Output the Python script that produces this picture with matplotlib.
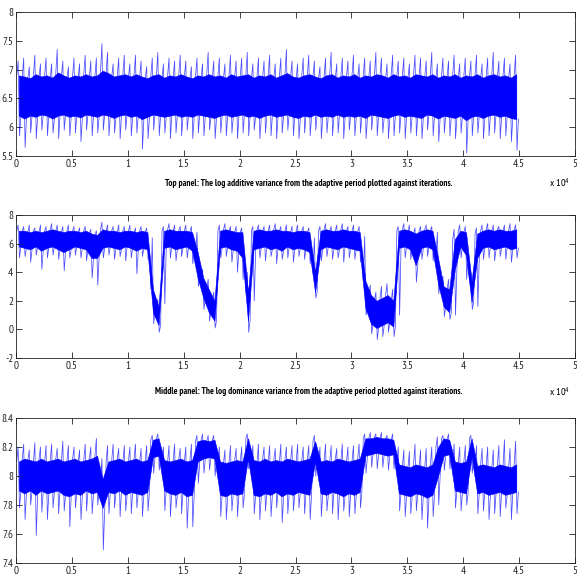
import numpy as np
import matplotlib
matplotlib.use("Agg")
import matplotlib.pyplot as plt
from matplotlib.ticker import FuncFormatter
from matplotlib import rc

rc('mathtext', fontset='custom', rm='PT Sans Narrow', default='regular')
plt.rcParams['font.family'] = ['PT Sans Narrow', 'DejaVu Sans']

# traces summarised per 500 iterations (90 bins, 0 .. 45000)
bin_width = 500
n_bins = 90

# top panel: log additive variance
top_core_lo = [6.20, 6.15, 6.20, 6.18, 6.22, 6.20, 6.15, 6.20, 6.22, 6.18,
               6.20, 6.17, 6.22, 6.20, 6.18, 6.22, 6.20, 6.16, 6.20, 6.22,
               6.18, 6.20, 6.14, 6.18, 6.22, 6.20, 6.18, 6.20, 6.22, 6.18,
               6.20, 6.18, 6.22, 6.20, 6.18, 6.16, 6.20, 6.22, 6.18, 6.20,
               6.22, 6.18, 6.20, 6.16, 6.20, 6.22, 6.18, 6.20, 6.22, 6.18,
               6.16, 6.20, 6.18, 6.22, 6.18, 6.20, 6.18, 6.22, 6.18, 6.20,
               6.18, 6.20, 6.16, 6.22, 6.20, 6.18, 6.16, 6.20, 6.22, 6.18,
               6.20, 6.18, 6.16, 6.22, 6.20, 6.15, 6.20, 6.18, 6.16, 6.20,
               6.12, 6.18, 6.20, 6.16, 6.20, 6.22, 6.18, 6.20, 6.16, 6.14]
top_core_hi = [6.90, 6.88, 6.85, 6.92, 6.88, 6.90, 6.86, 6.95, 6.90, 6.86,
               6.90, 6.88, 6.92, 6.88, 6.90, 6.98, 6.94, 6.88, 6.90, 6.92,
               6.88, 6.92, 6.88, 6.85, 6.90, 6.92, 6.86, 6.90, 6.88, 6.92,
               6.88, 6.85, 6.90, 6.88, 6.92, 6.88, 6.90, 6.86, 6.92, 6.88,
               6.90, 6.92, 6.86, 6.90, 6.88, 6.92, 6.86, 6.90, 6.94, 6.88,
               6.86, 6.90, 6.92, 6.88, 6.85, 6.90, 6.92, 6.86, 6.90, 6.88,
               6.92, 6.86, 6.90, 6.88, 6.92, 6.90, 6.86, 6.92, 6.88, 6.90,
               6.86, 6.92, 6.90, 6.88, 6.92, 6.86, 6.90, 6.88, 6.92, 6.86,
               6.90, 6.88, 6.92, 6.86, 6.90, 6.92, 6.88, 6.90, 6.86, 6.92]
top_lo = [5.85, 5.65, 5.90, 5.80, 5.95, 5.85, 5.90, 5.80, 5.95, 5.85,
          5.90, 5.75, 5.95, 5.85, 5.90, 5.95, 5.85, 5.90, 5.80, 5.95,
          5.85, 5.90, 5.62, 5.80, 5.95, 5.85, 5.90, 5.80, 5.90, 5.85,
          5.95, 5.80, 5.90, 5.85, 5.95, 5.80, 5.90, 5.85, 5.90, 5.80,
          5.90, 5.85, 5.95, 5.80, 5.90, 5.85, 5.80, 5.90, 5.95, 5.85,
          5.80, 5.90, 5.85, 5.95, 5.80, 5.90, 5.85, 5.90, 5.80, 5.95,
          5.85, 5.90, 5.80, 5.95, 5.85, 5.90, 5.80, 5.85, 5.90, 5.80,
          5.90, 5.85, 5.80, 5.95, 5.85, 5.75, 5.90, 5.85, 5.80, 5.90,
          5.55, 5.85, 5.90, 5.80, 5.85, 5.90, 5.80, 5.85, 5.75, 5.60]
top_hi = [7.15, 7.20, 7.05, 7.25, 7.10, 7.20, 7.10, 7.35, 7.15, 7.05,
          7.20, 7.10, 7.25, 7.15, 7.20, 7.45, 7.30, 7.10, 7.20, 7.25,
          7.10, 7.25, 7.15, 7.05, 7.20, 7.30, 7.10, 7.20, 7.15, 7.25,
          7.15, 7.05, 7.20, 7.10, 7.30, 7.15, 7.20, 7.10, 7.25, 7.15,
          7.20, 7.30, 7.10, 7.20, 7.15, 7.25, 7.10, 7.20, 7.35, 7.15,
          7.10, 7.20, 7.25, 7.15, 7.05, 7.20, 7.30, 7.10, 7.20, 7.15,
          7.25, 7.10, 7.20, 7.15, 7.30, 7.20, 7.10, 7.25, 7.15, 7.20,
          7.10, 7.25, 7.20, 7.15, 7.30, 7.10, 7.20, 7.15, 7.25, 7.10,
          7.20, 7.15, 7.25, 7.10, 7.20, 7.30, 7.15, 7.20, 7.10, 7.25]

# middle panel: log dominance variance
mid_core_lo = [5.8, 5.7, 5.6, 5.8, 5.5, 5.7, 5.8, 5.6, 5.4, 5.6,
               5.8, 5.7, 5.6, 5.0, 5.0, 5.7, 5.8, 5.7, 5.6, 5.8,
               5.7, 5.5, 5.7, 5.6, 1.2, 0.3, 5.7, 5.8, 5.6, 5.7,
               5.8, 5.5, 3.6, 2.2, 1.2, 0.6, 5.7, 5.8, 5.6, 5.5,
               5.0, 0.6, 5.6, 5.7, 5.8, 5.6, 5.7, 5.5, 5.8, 5.6,
               5.7, 5.6, 5.4, 2.6, 5.6, 5.8, 5.7, 5.6, 5.8, 5.7,
               5.6, 5.5, 1.5, 0.4, 0.1, 0.3, 0.5, 0.2, 5.7, 5.8,
               5.6, 4.5, 5.7, 5.8, 5.6, 3.2, 1.6, 1.2, 4.2, 5.8,
               5.2, 1.9, 5.0, 5.7, 5.8, 5.6, 5.7, 5.8, 5.6, 5.7]
mid_core_hi = [6.9, 6.9, 6.8, 6.9, 6.8, 6.9, 7.0, 6.9, 6.8, 6.9,
               6.9, 6.8, 6.9, 6.7, 6.6, 7.0, 6.9, 6.9, 6.8, 6.9,
               6.9, 6.8, 6.9, 6.8, 2.8, 1.6, 6.9, 7.0, 6.9, 6.9,
               6.9, 6.8, 5.4, 3.6, 2.8, 2.0, 6.9, 7.0, 6.9, 6.8,
               6.8, 2.6, 6.9, 7.0, 6.9, 6.9, 7.0, 6.9, 6.9, 6.8,
               6.9, 6.9, 6.8, 4.0, 6.9, 7.0, 6.9, 6.9, 7.0, 6.9,
               6.9, 6.8, 3.4, 2.4, 2.0, 2.2, 2.4, 2.0, 6.9, 7.0,
               6.9, 6.7, 6.9, 7.0, 6.9, 5.0, 3.0, 2.8, 6.3, 6.9,
               6.8, 3.4, 6.7, 6.9, 7.0, 6.9, 7.0, 6.9, 6.9, 7.0]
mid_lo = [5.0, 5.1, 4.7, 5.2, 4.2, 5.0, 5.2, 4.9, 4.1, 5.0,
          5.2, 5.0, 4.8, 3.6, 3.1, 5.0, 5.2, 4.9, 5.1, 4.8,
          5.0, 3.9, 5.1, 4.9, 0.4, -0.2, 1.8, 5.0, 4.8, 5.1,
          5.0, 4.6, 3.0, 1.4, 0.6, 0.1, 5.0, 5.1, 4.7, 4.0,
          3.5, -0.2, 2.0, 5.0, 4.8, 5.1, 4.6, 4.9, 5.0, 4.7,
          5.1, 4.9, 4.6, 2.2, 4.8, 5.1, 4.9, 5.0, 4.7, 5.0,
          4.9, 4.7, 1.0, -0.3, -0.7, -0.5, -0.2, -0.5, 1.0, 5.0,
          4.9, 3.3, 4.9, 5.1, 4.8, 2.5, 0.9, 0.7, 1.0, 5.0,
          3.5, 1.4, 1.6, 4.9, 5.0, 4.8, 5.1, 4.9, 4.7, 5.0]
mid_hi = [7.3, 7.2, 7.3, 7.1, 7.3, 7.2, 7.4, 7.3, 7.2, 7.3,
          7.2, 7.1, 7.2, 7.0, 6.9, 7.5, 7.3, 7.2, 7.3, 7.2,
          7.3, 7.1, 7.2, 7.1, 6.4, 2.1, 7.2, 7.4, 7.3, 7.2,
          7.3, 7.2, 6.8, 4.2, 3.5, 2.6, 7.3, 7.4, 7.2, 7.2,
          7.1, 4.0, 7.2, 7.3, 7.2, 7.3, 7.4, 7.2, 7.3, 7.2,
          7.3, 7.2, 7.1, 6.4, 7.2, 7.4, 7.2, 7.3, 7.4, 7.2,
          7.3, 7.2, 6.5, 3.1, 2.6, 3.0, 3.2, 2.8, 7.2, 7.4,
          7.3, 7.1, 7.2, 7.3, 7.2, 6.8, 3.7, 3.5, 7.0, 7.3,
          7.2, 4.0, 7.1, 7.3, 7.4, 7.3, 7.2, 7.3, 7.4, 7.3]

# bottom panel
bot_core_lo = [7.90, 7.88, 7.90, 7.87, 7.90, 7.88, 7.89, 7.90, 7.87, 7.86,
               7.88, 7.87, 7.90, 7.88, 7.89, 7.78, 7.89, 7.88, 7.90, 7.87,
               7.89, 7.88, 7.87, 7.89, 8.13, 8.14, 7.90, 7.88, 7.87, 7.89,
               7.86, 7.87, 8.10, 8.12, 8.13, 8.12, 7.87, 7.86, 7.88, 7.87,
               7.88, 8.12, 7.87, 7.86, 7.88, 7.87, 7.89, 7.86, 7.88, 7.87,
               7.89, 7.88, 7.87, 8.10, 7.88, 7.87, 7.89, 7.88, 7.86, 7.88,
               7.87, 7.89, 8.14, 8.15, 8.16, 8.15, 8.14, 8.15, 7.88, 7.87,
               7.86, 7.88, 7.87, 7.85, 7.87, 8.00, 8.14, 8.15, 7.90, 7.89,
               7.88, 8.13, 7.88, 7.89, 7.87, 7.88, 7.89, 7.87, 7.88, 7.89]
bot_core_hi = [8.10, 8.12, 8.11, 8.10, 8.12, 8.10, 8.11, 8.12, 8.10, 8.11,
               8.12, 8.10, 8.11, 8.12, 8.14, 7.98, 8.10, 8.11, 8.12, 8.10,
               8.11, 8.12, 8.10, 8.11, 8.25, 8.26, 8.11, 8.10, 8.11, 8.12,
               8.10, 8.11, 8.24, 8.25, 8.24, 8.25, 8.10, 8.09, 8.10, 8.11,
               8.10, 8.26, 8.11, 8.10, 8.12, 8.10, 8.11, 8.10, 8.12, 8.11,
               8.10, 8.11, 8.12, 8.24, 8.10, 8.11, 8.10, 8.12, 8.11, 8.10,
               8.11, 8.12, 8.26, 8.26, 8.27, 8.26, 8.26, 8.25, 8.08, 8.07,
               8.06, 8.08, 8.07, 8.06, 8.08, 8.20, 8.26, 8.25, 8.10, 8.09,
               8.10, 8.26, 8.07, 8.08, 8.07, 8.06, 8.08, 8.07, 8.06, 8.08]
bot_lo = [7.78, 7.70, 7.80, 7.59, 7.75, 7.70, 7.78, 7.74, 7.76, 7.65,
          7.78, 7.70, 7.76, 7.74, 7.80, 7.49, 7.74, 7.78, 7.72, 7.76,
          7.74, 7.78, 7.72, 7.76, 8.02, 8.04, 7.76, 7.72, 7.78, 7.74,
          7.64, 7.65, 7.95, 8.02, 8.04, 8.00, 7.72, 7.70, 7.76, 7.72,
          7.78, 8.05, 7.74, 7.70, 7.76, 7.72, 7.78, 7.68, 7.74, 7.76,
          7.78, 7.74, 7.70, 8.00, 7.72, 7.76, 7.74, 7.70, 7.76, 7.72,
          7.74, 7.78, 8.02, 8.06, 8.05, 8.06, 8.04, 8.05, 7.76, 7.72,
          7.74, 7.76, 7.70, 7.64, 7.72, 7.80, 8.04, 8.05, 7.78, 7.76,
          7.80, 8.02, 7.74, 7.76, 7.70, 7.74, 7.72, 7.78, 7.70, 7.74]
bot_hi = [8.20, 8.22, 8.18, 8.23, 8.20, 8.21, 8.22, 8.19, 8.24, 8.21,
          8.20, 8.18, 8.22, 8.20, 8.26, 8.12, 8.21, 8.22, 8.19, 8.21,
          8.20, 8.22, 8.19, 8.21, 8.28, 8.29, 8.20, 8.21, 8.22, 8.19,
          8.20, 8.22, 8.28, 8.29, 8.28, 8.28, 8.20, 8.18, 8.21, 8.19,
          8.20, 8.29, 8.21, 8.22, 8.20, 8.21, 8.19, 8.22, 8.20, 8.21,
          8.22, 8.20, 8.21, 8.28, 8.20, 8.22, 8.21, 8.19, 8.22, 8.20,
          8.21, 8.22, 8.29, 8.30, 8.29, 8.30, 8.28, 8.29, 8.20, 8.18,
          8.17, 8.22, 8.18, 8.19, 8.20, 8.27, 8.28, 8.29, 8.22, 8.20,
          8.21, 8.28, 8.21, 8.19, 8.20, 8.18, 8.21, 8.25, 8.19, 8.24]

top_caption = "Top panel: The log additive variance from the adaptive period plotted against iterations."
mid_caption = "Middle panel: The log dominance variance from the adaptive period plotted against iterations."

x_ticks = [0, 5000, 10000, 15000, 20000, 25000, 30000, 35000, 40000, 45000, 50000]

panels = [
    (top_core_lo, top_core_hi, top_lo, top_hi, (5.5, 8), [5.5, 6, 6.5, 7, 7.5, 8]),
    (mid_core_lo, mid_core_hi, mid_lo, mid_hi, (-2, 8), [-2, 0, 2, 4, 6, 8]),
    (bot_core_lo, bot_core_hi, bot_lo, bot_hi, (7.4, 8.4), [7.4, 7.6, 7.8, 8, 8.2, 8.4]),
]

W, H = 577, 587
fig = plt.figure(figsize=(W / 100.0, H / 100.0), dpi=100)

# axes boxes in pixels: top, bottom
boxes = [(12, 156), (215, 358), (418, 563)]
left_px, right_px = 16, 575

blue = "#0000ff"
fmt = FuncFormatter(lambda v, p: "%g" % (v / 1e4))

for (core_lo, core_hi, lo, hi, ylim, yticks), (t, b) in zip(panels, boxes):
    ax = fig.add_axes([left_px / W, 1 - b / H, (right_px - left_px) / W, (b - t) / H])
    xc = np.arange(n_bins) * bin_width + bin_width / 2.0
    ax.fill_between(xc, core_lo, core_hi, color=blue, linewidth=0.4, edgecolor=blue)
    # each bin: up to the core top, spike to hi, down to lo, back to core bottom
    q = bin_width / 8.0
    xs = np.column_stack([xc - 3 * q, xc - q, xc + q, xc + 3 * q]).ravel()
    ys = np.column_stack([core_hi, hi, lo, core_lo]).ravel()
    ax.plot(xs, ys, color=blue, linewidth=0.55, alpha=0.7)

    ax.set_xlim(0, 50000)
    ax.set_ylim(*ylim)
    ax.set_xticks(x_ticks)
    ax.xaxis.set_major_formatter(fmt)
    ax.set_yticks(yticks)
    ax.set_yticklabels(["%g" % v for v in yticks])
    ax.tick_params(direction="in", length=4, width=0.6, top=True, right=True,
                   labelsize=8, pad=2, colors="#222222")
    for s in ax.spines.values():
        s.set_linewidth(0.6)
        s.set_color("#222222")

# captions and x 10^4 labels
fig.text(309 / W, 1 - 183 / H, top_caption, ha="center", va="center",
         fontsize=6.6, fontweight="bold")
fig.text(309 / W, 1 - 392 / H, mid_caption, ha="center", va="center",
         fontsize=6.6, fontweight="bold")
for ypx in [183, 392, 592]:
    fig.text(549 / W, 1 - ypx / H, r"x 10$^4$", ha="left", va="center", fontsize=7.5)

fig.savefig("out.png", dpi=100)
